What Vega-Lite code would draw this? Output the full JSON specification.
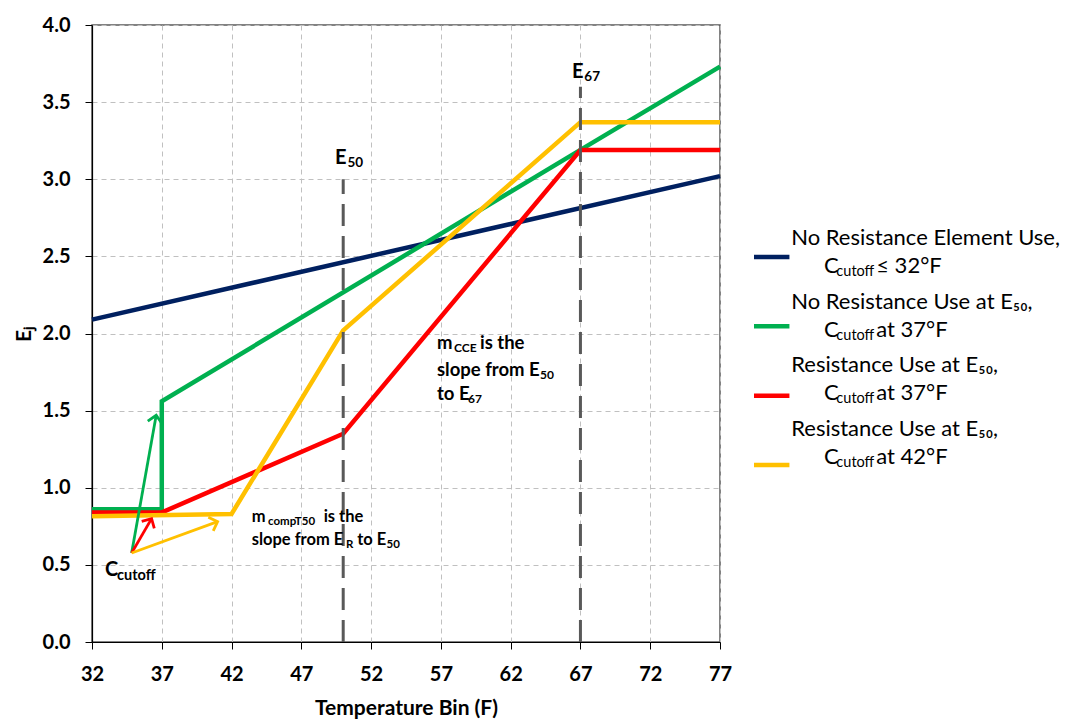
{
  "$schema": "https://vega.github.io/schema/vega-lite/v6.json",
  "padding": {"left": 12, "top": 14, "right": 0, "bottom": 0},
  "spacing": 18,
  "background": "white",
  "datasets": {
    "lines": [
      {"series": "No Resistance Element Use", "pt": 0, "temp": 32, "ej": 2.09},
      {"series": "No Resistance Element Use", "pt": 1, "temp": 77, "ej": 3.02},
      {"series": "No Resistance Use at E50, cutoff 37F", "pt": 0, "temp": 32, "ej": 0.86},
      {"series": "No Resistance Use at E50, cutoff 37F", "pt": 1, "temp": 37, "ej": 0.86},
      {"series": "No Resistance Use at E50, cutoff 37F", "pt": 2, "temp": 37, "ej": 1.56},
      {"series": "No Resistance Use at E50, cutoff 37F", "pt": 3, "temp": 67, "ej": 3.19},
      {"series": "No Resistance Use at E50, cutoff 37F", "pt": 4, "temp": 77, "ej": 3.73},
      {"series": "Resistance Use at E50, cutoff 37F", "pt": 0, "temp": 32, "ej": 0.84},
      {"series": "Resistance Use at E50, cutoff 37F", "pt": 1, "temp": 37, "ej": 0.84},
      {"series": "Resistance Use at E50, cutoff 37F", "pt": 2, "temp": 50, "ej": 1.35},
      {"series": "Resistance Use at E50, cutoff 37F", "pt": 3, "temp": 67, "ej": 3.19},
      {"series": "Resistance Use at E50, cutoff 37F", "pt": 4, "temp": 77, "ej": 3.19},
      {"series": "Resistance Use at E50, cutoff 42F", "pt": 0, "temp": 32, "ej": 0.815},
      {"series": "Resistance Use at E50, cutoff 42F", "pt": 1, "temp": 42, "ej": 0.83},
      {"series": "Resistance Use at E50, cutoff 42F", "pt": 2, "temp": 50, "ej": 2.02},
      {"series": "Resistance Use at E50, cutoff 42F", "pt": 3, "temp": 67, "ej": 3.37},
      {"series": "Resistance Use at E50, cutoff 42F", "pt": 4, "temp": 77, "ej": 3.37}
    ],
    "markers": [
      {"temp": 50, "lo": 0, "hi": 3.0},
      {"temp": 67, "lo": 0, "hi": 3.6}
    ],
    "arrows": [
      {"series": "No Resistance Use at E50, cutoff 37F", "x1": 34.84, "y1": 0.577, "x2": 36.6, "y2": 1.47},
      {"series": "Resistance Use at E50, cutoff 37F", "x1": 34.84, "y1": 0.577, "x2": 36.27, "y2": 0.80},
      {"series": "Resistance Use at E50, cutoff 42F", "x1": 34.84, "y1": 0.577, "x2": 41.0, "y2": 0.78}
    ],
    "notes": [
      {"kind": "big", "t": "E", "x": 49.41, "y": 3.138},
      {"kind": "esub", "t": "50", "x": 50.3, "y": 3.105},
      {"kind": "big", "t": "E", "x": 66.39, "y": 3.695},
      {"kind": "esub", "t": "67", "x": 67.28, "y": 3.662},
      {"kind": "big", "t": "C", "x": 32.93, "y": 0.467},
      {"kind": "csub", "t": "cutoff", "x": 33.79, "y": 0.428},
      {"kind": "norm", "t": "m", "x": 56.72, "y": 1.94},
      {"kind": "sub", "t": "CCE", "x": 57.94, "y": 1.906},
      {"kind": "norm", "t": "is the", "x": 59.8, "y": 1.94},
      {"kind": "norm", "t": "slope from E", "x": 56.72, "y": 1.763},
      {"kind": "sub", "t": "50", "x": 64.1, "y": 1.729},
      {"kind": "norm", "t": "to E", "x": 56.72, "y": 1.608},
      {"kind": "sub", "t": "67", "x": 58.95, "y": 1.574},
      {"kind": "norm2", "t": "m", "x": 43.44, "y": 0.812},
      {"kind": "sub2", "t": "compT50", "x": 44.61, "y": 0.778},
      {"kind": "norm2", "t": "is the", "x": 48.6, "y": 0.812},
      {"kind": "norm2", "t": "slope from E", "x": 43.44, "y": 0.661},
      {"kind": "sub2", "t": "R", "x": 50.2, "y": 0.627},
      {"kind": "norm2", "t": "to E", "x": 51.0, "y": 0.661},
      {"kind": "sub2", "t": "50", "x": 53.1, "y": 0.627}
    ],
    "legend": [
      {"series": "No Resistance Element Use", "l1": "No Resistance Element Use,", "l2": "≤ 32°F"},
      {"series": "No Resistance Use at E50, cutoff 37F", "l1": "No Resistance Use at E₅₀,", "l2": "at 37°F"},
      {"series": "Resistance Use at E50, cutoff 37F", "l1": "Resistance Use at E₅₀,", "l2": "at 37°F"},
      {"series": "Resistance Use at E50, cutoff 42F", "l1": "Resistance Use at E₅₀,", "l2": "at 42°F"}
    ]
  },
  "hconcat": [
    {
      "width": 628,
      "height": 617,
      "layer": [
        {
          "data": {"name": "lines"},
          "mark": {"type": "line", "strokeWidth": 4.5, "strokeJoin": "miter"},
          "encoding": {
            "x": {"field": "temp", "type": "quantitative", "title": "Temperature Bin (F)",
                  "scale": {"domain": [32, 77], "nice": false, "zero": false},
                  "axis": {"values": [32, 37, 42, 47, 52, 57, 62, 67, 72, 77], "labelPadding": 15, "titlePadding": 13, "labelFlush": false}},
            "y": {"field": "ej", "type": "quantitative", "title": "Eⱼ",
                  "scale": {"domain": [0, 4], "nice": false},
                  "axis": {"values": [0, 0.5, 1, 1.5, 2, 2.5, 3, 3.5, 4], "format": ".1f", "labelPadding": 15, "titlePadding": 8}},
            "order": {"field": "pt", "type": "quantitative"},
            "color": {"field": "series", "type": "nominal", "legend": null,
                      "scale": {"domain": ["No Resistance Element Use", "No Resistance Use at E50, cutoff 37F", "Resistance Use at E50, cutoff 37F", "Resistance Use at E50, cutoff 42F"],
                                "range": ["#002060", "#00B050", "#FF0000", "#FFC000"]}}
          }
        },
        {
          "data": {"name": "markers"},
          "mark": {"type": "rule", "color": "#595959", "strokeWidth": 3, "strokeDash": [22, 10]},
          "encoding": {
            "x": {"field": "temp", "type": "quantitative", "title": "Temperature Bin (F)"},
            "y": {"field": "lo", "type": "quantitative", "title": "Eⱼ"},
            "y2": {"field": "hi"}
          }
        },
        {
          "data": {"name": "arrows"},
          "mark": {"type": "rule", "strokeWidth": 2.8},
          "encoding": {
            "x": {"field": "x1", "type": "quantitative", "title": "Temperature Bin (F)"},
            "y": {"field": "y1", "type": "quantitative", "title": "Eⱼ"},
            "x2": {"field": "x2"},
            "y2": {"field": "y2"},
            "color": {"field": "series", "type": "nominal", "legend": null}
          }
        },
        {
          "data": {"name": "arrows"},
          "mark": {"type": "point", "shape": "M-1,1L0,0L1,1", "filled": false, "strokeWidth": 2.8, "size": 210, "opacity": 1},
          "encoding": {
            "x": {"field": "x2", "type": "quantitative", "title": "Temperature Bin (F)"},
            "y": {"field": "y2", "type": "quantitative", "title": "Eⱼ"},
            "color": {"field": "series", "type": "nominal", "legend": null},
            "angle": {"field": "series", "type": "nominal", "legend": null,
                      "scale": {"type": "ordinal", "domain": ["No Resistance Use at E50, cutoff 37F", "Resistance Use at E50, cutoff 37F", "Resistance Use at E50, cutoff 42F"],
                                "range": [10.3, 29.7, 70.2]}}
          }
        },
        {
          "data": {"name": "notes"},
          "transform": [{"filter": "datum.kind === 'big'"}],
          "mark": {"type": "text", "align": "left", "baseline": "middle", "font": "Lato", "fontWeight": "bold", "fontSize": 20, "color": "black"},
          "encoding": {
            "x": {"field": "x", "type": "quantitative", "title": "Temperature Bin (F)"},
            "y": {"field": "y", "type": "quantitative", "title": "Eⱼ"},
            "text": {"field": "t"}
          }
        },
        {
          "data": {"name": "notes"},
          "transform": [{"filter": "datum.kind === 'esub'"}],
          "mark": {"type": "text", "align": "left", "baseline": "middle", "font": "Lato", "fontWeight": "bold", "fontSize": 13.5, "color": "black"},
          "encoding": {
            "x": {"field": "x", "type": "quantitative", "title": "Temperature Bin (F)"},
            "y": {"field": "y", "type": "quantitative", "title": "Eⱼ"},
            "text": {"field": "t"}
          }
        },
        {
          "data": {"name": "notes"},
          "transform": [{"filter": "datum.kind === 'csub'"}],
          "mark": {"type": "text", "align": "left", "baseline": "middle", "font": "Lato", "fontWeight": "bold", "fontSize": 14.5, "color": "black"},
          "encoding": {
            "x": {"field": "x", "type": "quantitative", "title": "Temperature Bin (F)"},
            "y": {"field": "y", "type": "quantitative", "title": "Eⱼ"},
            "text": {"field": "t"}
          }
        },
        {
          "data": {"name": "notes"},
          "transform": [{"filter": "datum.kind === 'norm'"}],
          "mark": {"type": "text", "align": "left", "baseline": "middle", "font": "Lato", "fontWeight": "bold", "fontSize": 18.5, "color": "black"},
          "encoding": {
            "x": {"field": "x", "type": "quantitative", "title": "Temperature Bin (F)"},
            "y": {"field": "y", "type": "quantitative", "title": "Eⱼ"},
            "text": {"field": "t"}
          }
        },
        {
          "data": {"name": "notes"},
          "transform": [{"filter": "datum.kind === 'sub'"}],
          "mark": {"type": "text", "align": "left", "baseline": "middle", "font": "Lato", "fontWeight": "bold", "fontSize": 12, "color": "black"},
          "encoding": {
            "x": {"field": "x", "type": "quantitative", "title": "Temperature Bin (F)"},
            "y": {"field": "y", "type": "quantitative", "title": "Eⱼ"},
            "text": {"field": "t"}
          }
        },
        {
          "data": {"name": "notes"},
          "transform": [{"filter": "datum.kind === 'norm2'"}],
          "mark": {"type": "text", "align": "left", "baseline": "middle", "font": "Lato", "fontWeight": "bold", "fontSize": 16.5, "color": "black"},
          "encoding": {
            "x": {"field": "x", "type": "quantitative", "title": "Temperature Bin (F)"},
            "y": {"field": "y", "type": "quantitative", "title": "Eⱼ"},
            "text": {"field": "t"}
          }
        },
        {
          "data": {"name": "notes"},
          "transform": [{"filter": "datum.kind === 'sub2'"}],
          "mark": {"type": "text", "align": "left", "baseline": "middle", "font": "Lato", "fontWeight": "bold", "fontSize": 11.5, "color": "black"},
          "encoding": {
            "x": {"field": "x", "type": "quantitative", "title": "Temperature Bin (F)"},
            "y": {"field": "y", "type": "quantitative", "title": "Eⱼ"},
            "text": {"field": "t"}
          }
        }
      ],
      "resolve": {"scale": {"angle": "independent"}}
    },
    {
      "width": 310,
      "height": 617,
      "view": {"stroke": null},
      "data": {"name": "legend"},
      "layer": [
        {
          "mark": {"type": "rule", "strokeWidth": 4.5},
          "encoding": {
            "x": {"datum": 0, "type": "quantitative", "scale": {"domain": [0, 310]}, "axis": null},
            "x2": {"datum": 40},
            "y": {"field": "series", "type": "nominal", "axis": null, "sort": null,
                  "scale": {"type": "point", "padding": 0, "range": [232, 440]}},
            "color": {"field": "series", "type": "nominal", "legend": null,
                      "scale": {"domain": ["No Resistance Element Use", "No Resistance Use at E50, cutoff 37F", "Resistance Use at E50, cutoff 37F", "Resistance Use at E50, cutoff 42F"],
                                "range": ["#002060", "#00B050", "#FF0000", "#FFC000"]}}
          }
        },
        {
          "mark": {"type": "text", "align": "left", "baseline": "middle", "font": "Lato", "fontSize": 22, "color": "black"},
          "encoding": {
            "x": {"datum": 42, "type": "quantitative", "axis": null},
            "y": {"field": "series", "type": "nominal", "axis": null, "sort": null,
                  "scale": {"type": "point", "padding": 0, "range": [213, 404]}},
            "text": {"field": "l1"}
          }
        },
        {
          "mark": {"type": "text", "align": "left", "baseline": "middle", "font": "Lato", "fontSize": 22, "color": "black", "dy": 28},
          "encoding": {
            "x": {"datum": 79, "type": "quantitative", "axis": null},
            "y": {"field": "series", "type": "nominal", "axis": null, "sort": null,
                  "scale": {"type": "point", "padding": 0, "range": [213, 404]}},
            "text": {"value": "C"}
          }
        },
        {
          "mark": {"type": "text", "align": "left", "baseline": "middle", "font": "Lato", "fontSize": 14.5, "color": "black", "dy": 34},
          "encoding": {
            "x": {"datum": 93, "type": "quantitative", "axis": null},
            "y": {"field": "series", "type": "nominal", "axis": null, "sort": null,
                  "scale": {"type": "point", "padding": 0, "range": [213, 404]}},
            "text": {"value": "cutoff"}
          }
        },
        {
          "mark": {"type": "text", "align": "left", "baseline": "middle", "font": "Lato", "fontSize": 22, "color": "black", "dy": 28},
          "encoding": {
            "x": {"datum": 138, "type": "quantitative", "axis": null},
            "y": {"field": "series", "type": "nominal", "axis": null, "sort": null,
                  "scale": {"type": "point", "padding": 0, "range": [213, 404]}},
            "text": {"field": "l2"}
          }
        }
      ],
      "resolve": {"scale": {"y": "independent"}}
    }
  ],
  "config": {
    "font": "Lato",
    "view": {"stroke": "#595959", "strokeWidth": 1.5},
    "axis": {
      "labelFont": "Lato", "labelFontWeight": "bold", "labelFontSize": 20, "labelColor": "black",
      "titleFont": "Lato", "titleFontWeight": "bold", "titleFontSize": 21, "titleColor": "black",
      "domainColor": "black", "domainWidth": 1.2, "tickColor": "black", "tickSize": 7,
      "gridColor": "#c0c0c0", "gridDash": [5, 4], "gridWidth": 1
    }
  }
}
